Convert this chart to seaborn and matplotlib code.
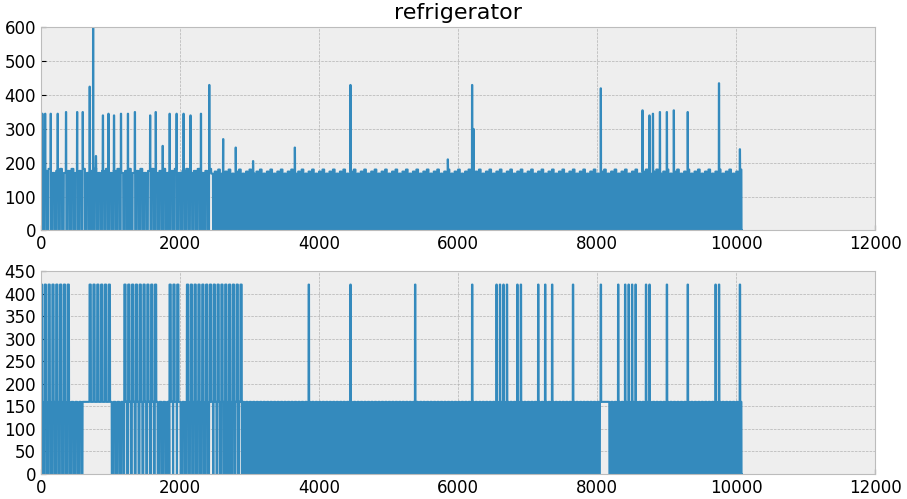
import numpy as np
import pandas as pd
import matplotlib
matplotlib.use("Agg")
import matplotlib.pyplot as plt
import seaborn as sns

# compressor cycle segments: (start, end, period, on-length, on-level)
segments = [(0, 2450, 55, 30, 170), (2450, 10080, 50, 26, 168)]
# start-up spikes in the raw signal (position, peak)
spike_pos = [20, 60, 140, 240, 360, 520, 600, 700, 750, 790, 890, 970, 1050, 1150,
             1250, 1350, 1570, 1650, 1750, 1850, 1950, 2050, 2150, 2300, 2420, 2620,
             2800, 3050, 3650, 4450, 5850, 6200, 6220, 8050, 8650, 8750, 8800, 8900,
             9000, 9100, 9300, 9750, 10050]
spike_val = [345, 345, 345, 345, 350, 350, 350, 425, 600, 220, 340, 345, 340, 345,
             345, 350, 340, 350, 250, 345, 345, 345, 340, 345, 430, 270,
             245, 205, 245, 430, 210, 430, 300, 420, 355, 340, 345, 350,
             350, 355, 350, 435, 240]
# ranges where the discretised signal sits on the 420 level
high_ranges = [(0, 400), (700, 1000), (1200, 1650), (1850, 2000), (2100, 2900)]
high_single = [3850, 4450, 5380, 6200, 6550, 6600, 6650, 6700, 6850, 6900, 7150,
               7250, 7350, 7650, 8050, 8300, 8400, 8450, 8500, 8550, 8700, 8750,
               9000, 9300, 9700, 9750, 10050]
flat_160 = [(600, 1000), (8040, 8160)]

n = 10080
raw = np.zeros(n)
disc = np.zeros(n)
for s0, s1, per, dur, lvl in segments:
    for k, s in enumerate(range(s0, s1, per)):
        raw[s:s + dur] = lvl + (k % 3) * 6
        disc[s:s + dur] = 160
for p, v in zip(spike_pos, spike_val):
    raw[p:p + 6] = v
for a, b in flat_160:
    disc[a:b] = np.maximum(disc[a:b], 160)
for a, b in high_ranges:
    for s in range(a, b, 55):
        disc[s:s + 20] = 420
for p in high_single:
    disc[p:p + 8] = 420

df = pd.DataFrame({"t": np.arange(n), "raw": raw, "disc": disc})

plt.style.use("bmh")
plt.rcParams["font.family"] = ["DejaVu Sans"]
fig, axes = plt.subplots(2, 1, figsize=(9.07, 4.99), dpi=100)
for ax, col, ymax, step in [(axes[0], "raw", 600, 100), (axes[1], "disc", 450, 50)]:
    sns.lineplot(data=df, x="t", y=col, ax=ax, color="#348ABD", linewidth=1.5)
    ax.set_xlim(0, 12000)
    ax.set_ylim(0, ymax)
    ax.set_yticks(np.arange(0, ymax + 1, step))
    ax.set_xlabel("")
    ax.set_ylabel("")
    ax.tick_params(labelsize=12)
axes[0].set_title("refrigerator", fontsize=16)
fig.subplots_adjust(left=0.045, right=0.965, top=0.945, bottom=0.05, hspace=0.2)
fig.savefig("out.png")
